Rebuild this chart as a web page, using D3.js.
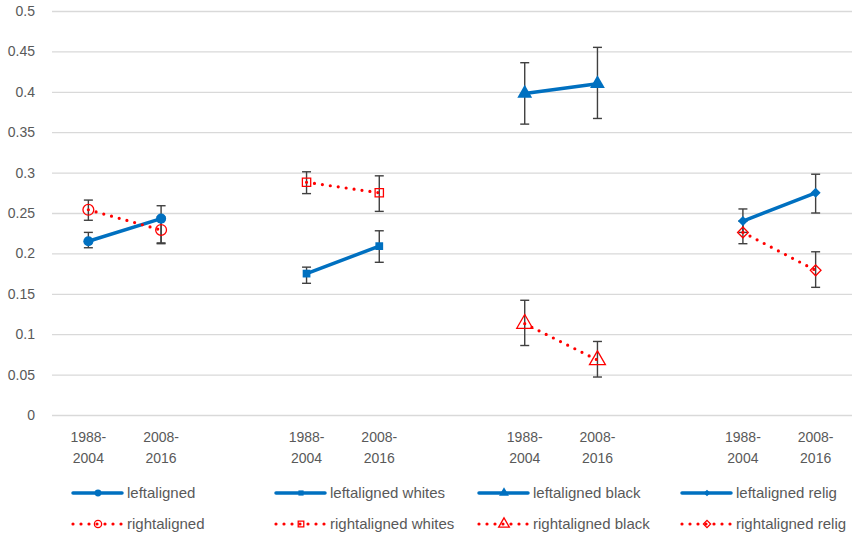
<!doctype html>
<html>
<head>
  <style>
    body { margin: 0; background: #fff; }
    text { font-family: "Liberation Sans", Arial, sans-serif; fill: #595959; }
  </style>
  <script src="https://d3js.org/d3.v7.min.js"></script>
</head>
<body>
<svg width="854" height="536"></svg>
<script>
  // categories: two periods per group, one empty slot between groups
  var categories = ["1988-2004", "2008-2016", "", "1988-2004", "2008-2016", "",
                    "1988-2004", "2008-2016", "", "1988-2004", "2008-2016"];
  var yTicks = [0, 0.05, 0.1, 0.15, 0.2, 0.25, 0.3, 0.35, 0.4, 0.45, 0.5];
  var yTickLabels = ["0", "0.05", "0.1", "0.15", "0.2", "0.25", "0.3", "0.35", "0.4", "0.45", "0.5"];

  var seriesNames = ["leftaligned", "leftaligned whites", "leftaligned black", "leftaligned relig",
                     "rightaligned", "rightaligned whites", "rightaligned black", "rightaligned relig"];
  var seriesStart = [0, 3, 6, 9, 0, 3, 6, 9]; // index of first category of each series

  var leftaligned = [0.215, 0.243],       leftalignedLow = [0.207, 0.212],       leftalignedHigh = [0.226, 0.259];
  var leftWhites = [0.175, 0.209],        leftWhitesLow = [0.163, 0.189],        leftWhitesHigh = [0.183, 0.228];
  var leftBlack = [0.398, 0.410],         leftBlackLow = [0.360, 0.367],         leftBlackHigh = [0.436, 0.455];
  var leftRelig = [0.240, 0.275],         leftReligLow = [0.226, 0.250],         leftReligHigh = [0.255, 0.298];
  var rightaligned = [0.254, 0.229],      rightalignedLow = [0.241, 0.213],      rightalignedHigh = [0.266, 0.245];
  var rightWhites = [0.288, 0.275],       rightWhitesLow = [0.274, 0.252],       rightWhitesHigh = [0.301, 0.296];
  var rightBlack = [0.113, 0.068],        rightBlackLow = [0.086, 0.047],        rightBlackHigh = [0.142, 0.091];
  var rightRelig = [0.226, 0.179],        rightReligLow = [0.212, 0.158],        rightReligHigh = [0.240, 0.202];

  var values = [leftaligned, leftWhites, leftBlack, leftRelig, rightaligned, rightWhites, rightBlack, rightRelig];
  var lows = [leftalignedLow, leftWhitesLow, leftBlackLow, leftReligLow, rightalignedLow, rightWhitesLow, rightBlackLow, rightReligLow];
  var highs = [leftalignedHigh, leftWhitesHigh, leftBlackHigh, leftReligHigh, rightalignedHigh, rightWhitesHigh, rightBlackHigh, rightReligHigh];

  var blue = "#0070c0", red = "#ff0000";
  var markerTypes = [d3.symbolCircle, d3.symbolSquare, d3.symbolTriangle, d3.symbolSquare];
  var markerRotate = [0, 0, 0, 45];
  var markerSizes = [80, 60, 95, 50];

  var series = seriesNames.map(function (name, i) {
    return {
      name: name,
      left: i < 4,
      marker: i % 4,
      points: values[i].map(function (v, j) {
        return { cat: seriesStart[i] + j, value: v, low: lows[i][j], high: highs[i][j] };
      })
    };
  });

  var svg = d3.select("svg");
  var plotLeft = 52, plotRight = 852, plotTop = 11, plotBottom = 415;

  var x = d3.scaleBand().domain(d3.range(categories.length)).range([plotLeft, plotRight]);
  var y = d3.scaleLinear().domain([0, 0.5]).range([plotBottom, plotTop]);
  function cx(c) { return x(c) + x.bandwidth() / 2; }

  // y axis + gridlines
  var yAxis = svg.append("g")
    .attr("transform", "translate(" + plotLeft + ",0)")
    .call(d3.axisLeft(y).tickValues(yTicks).tickSize(-(plotRight - plotLeft)).tickPadding(17)
      .tickFormat(function (d, i) { return yTickLabels[i]; }));
  yAxis.select(".domain").remove();
  yAxis.selectAll(".tick line").attr("stroke", "#d9d9d9").attr("stroke-width", 1.3);
  yAxis.selectAll(".tick text").style("font-size", "14px").attr("fill", "#595959");

  // x axis labels (two lines)
  var xAxis = svg.append("g")
    .attr("transform", "translate(0," + plotBottom + ")")
    .call(d3.axisBottom(x).tickSize(0).tickFormat(function (d) { return categories[d]; }));
  xAxis.select(".domain").remove();
  xAxis.selectAll(".tick text").each(function (d) {
    var t = d3.select(this), label = categories[d];
    t.text(null).attr("y", 0).attr("dy", null).style("font-size", "14px").attr("fill", "#595959");
    if (!label) return;
    var parts = label.split("-");
    t.append("tspan").attr("x", 0).attr("y", 27).text(parts[0] + "-");
    t.append("tspan").attr("x", 0).attr("y", 48).text(parts[1]);
  });

  function styleLine(sel, isLeft) {
    if (isLeft) {
      sel.attr("stroke", blue).attr("stroke-width", 3.5).attr("stroke-linecap", "round");
    } else {
      sel.attr("stroke", red).attr("stroke-width", 3.2).attr("stroke-linecap", "round")
        .attr("stroke-dasharray", "0 8");
    }
  }

  var line = d3.line().x(function (d) { return cx(d.cat); }).y(function (d) { return y(d.value); });

  // error bars
  var eb = svg.append("g").attr("stroke", "#404040").attr("stroke-width", 1.4);
  series.forEach(function (s) {
    s.points.forEach(function (p) {
      var px = cx(p.cat);
      eb.append("line").attr("x1", px).attr("x2", px).attr("y1", y(p.low)).attr("y2", y(p.high));
      eb.append("line").attr("x1", px - 4.5).attr("x2", px + 4.5).attr("y1", y(p.low)).attr("y2", y(p.low));
      eb.append("line").attr("x1", px - 4.5).attr("x2", px + 4.5).attr("y1", y(p.high)).attr("y2", y(p.high));
    });
  });

  function drawMarker(g, s, px, py, scale) {
    var size = markerSizes[s.marker] * (s.left ? 1 : 1.15) * scale;
    var sym = d3.symbol().type(markerTypes[s.marker]).size(size);
    var m = g.append("path").attr("d", sym())
      .attr("transform", "translate(" + px + "," + py + ") rotate(" + markerRotate[s.marker] + ")");
    if (s.left) m.attr("fill", blue);
    else m.attr("fill", "none").attr("stroke", red).attr("stroke-width", 1.3);
  }

  // lines and markers
  series.forEach(function (s) {
    svg.append("path").datum(s.points).attr("fill", "none").attr("d", line).call(styleLine, s.left);
  });
  series.forEach(function (s) {
    s.points.forEach(function (p) { drawMarker(svg, s, cx(p.cat), y(p.value), 1); });
  });

  // legend
  var legendCols = [73, 276, 479, 682], legendRows = [493, 524];
  series.forEach(function (s, i) {
    var lx = legendCols[i % 4], ly = legendRows[s.left ? 0 : 1];
    var g = svg.append("g");
    g.append("line").attr("x1", lx).attr("x2", lx + 49).attr("y1", ly).attr("y2", ly).call(styleLine, s.left);
    drawMarker(g, s, lx + 25, ly, 0.45);
    g.append("text").attr("x", lx + 54).attr("y", ly).attr("dy", "0.35em")
      .style("font-size", "15px").text(s.name);
  });
</script>
</body>
</html>
